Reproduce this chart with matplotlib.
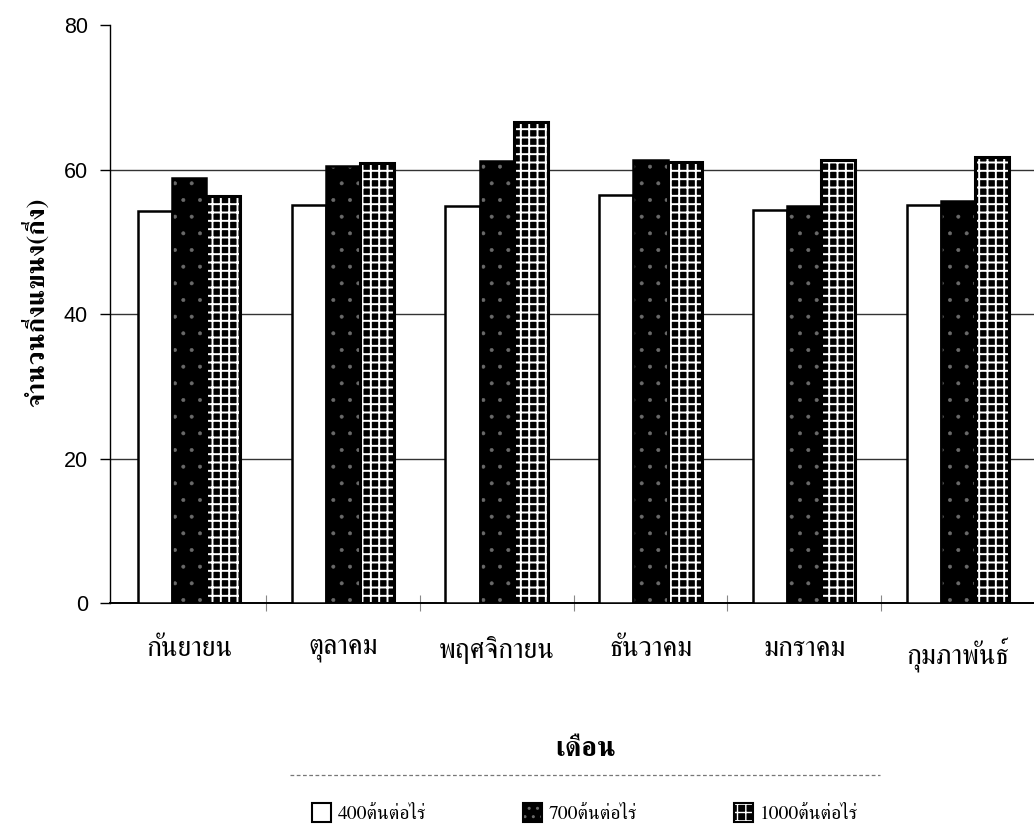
import numpy as np
import matplotlib
matplotlib.use("Agg")
import matplotlib.pyplot as plt
from matplotlib.patches import Patch
from matplotlib.lines import Line2D
from matplotlib.legend_handler import HandlerTuple

# branch counts per month for three planting densities
months = ["กันยายน", "ตุลาคม", "พฤศจิกายน", "ธันวาคม", "มกราคม", "กุมภาพันธ์"]
d400 = [54.3, 55.1, 55.0, 56.5, 54.4, 55.1]
d700 = [58.8, 60.5, 61.2, 61.3, 55.0, 55.7]
d1000 = [56.4, 60.9, 66.6, 61.0, 61.3, 61.7]
series_names = ["400ต้นต่อไร่", "700ต้นต่อไร่", "1000ต้นต่อไร่"]

thai = ["FreeSerif", "DejaVu Sans"]
num_font = ["Liberation Sans", "DejaVu Sans"]

fig = plt.figure(figsize=(10.34, 8.35), dpi=100)
ax = fig.add_axes([0.1064, 0.2778, 0.8936, 0.6922])

x = np.arange(len(months))
w = 0.222

# white bars
ax.bar(x - w, d400, w, facecolor="white", edgecolor="black", linewidth=1.8, zorder=3)

# dark bars with faint stipple
with plt.rc_context({"hatch.linewidth": 0.4}):
    ax.bar(x, d700, w, facecolor="black", edgecolor="#6a6a6a", hatch=".", linewidth=0, zorder=3)
ax.bar(x, d700, w, fill=False, edgecolor="black", linewidth=1.8, zorder=4)

# black bars with white grid
with plt.rc_context({"hatch.linewidth": 1.4}):
    ax.bar(x + w, d1000, w, facecolor="black", edgecolor="white", hatch="++", linewidth=0, zorder=3)
ax.bar(x + w, d1000, w, fill=False, edgecolor="black", linewidth=2.2, zorder=4)

ax.set_xlim(-0.514, 5.494)
ax.set_ylim(0, 80)
ax.set_yticks([0, 20, 40, 60, 80])
for t in [20, 40, 60]:
    ax.axhline(t, color="#333333", linewidth=1.0, zorder=1)

ax.spines["top"].set_visible(False)
ax.spines["right"].set_visible(False)
ax.spines["left"].set_linewidth(1.0)
ax.spines["bottom"].set_linewidth(1.4)

ax.tick_params(axis="y", direction="out", length=7, width=1, pad=9)
for lab in ax.get_yticklabels():
    lab.set_family(num_font)
    lab.set_fontsize(15.5)

ax.set_xticks(x)
ax.set_xticklabels(months, family=thai, fontsize=20)
ax.tick_params(axis="x", length=0, pad=24)
ax.set_xticks(x[:-1] + 0.5, minor=True)
ax.tick_params(axis="x", which="minor", direction="inout", length=12, width=0.8, color="#888888")

ax.set_ylabel("จำนวนกิ่งแขนง(กิ่ง)", family=thai, fontsize=19, fontweight="bold")
ax.yaxis.set_label_coords(-0.066, 0.52)
ax.set_xlabel("เดือน", family=thai, fontsize=20, fontweight="bold", va="center")
ax.xaxis.set_label_coords(0.515, -0.254)

# legend below the plot
h1 = Patch(facecolor="white", edgecolor="black", linewidth=1.5)
h2 = (Patch(facecolor="black", edgecolor="#6a6a6a", hatch="..", linewidth=0),
      Patch(fill=False, edgecolor="black", linewidth=1.5))
h3 = (Patch(facecolor="black", edgecolor="white", hatch="++", linewidth=0),
      Patch(fill=False, edgecolor="black", linewidth=1.5))
fig.legend([h1, h2, h3], series_names, loc="center", bbox_to_anchor=(0.566, 0.026),
           ncol=3, frameon=False, handler_map={tuple: HandlerTuple(ndivide=1)},
           handlelength=0.95, handleheight=1.1, handletextpad=0.35, columnspacing=5.0,
           prop={"family": thai, "size": 14})
fig.add_artist(Line2D([0.28, 0.851], [0.072, 0.072], transform=fig.transFigure,
                      color="#777777", linewidth=0.9, linestyle=(0, (3, 2))))

fig.savefig("out.png", dpi=100)
